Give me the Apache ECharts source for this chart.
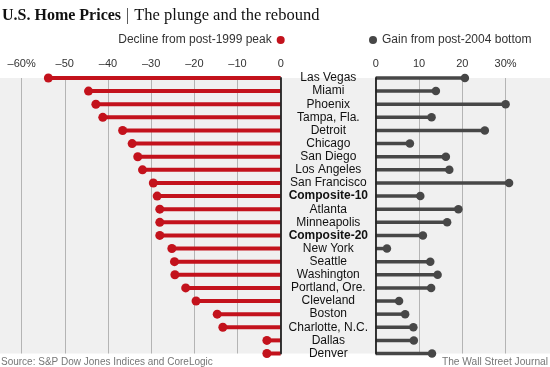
<!DOCTYPE html>
<html><head><meta charset="utf-8">
<script src="https://cdn.jsdelivr.net/npm/echarts@6/dist/echarts.min.js"></script>
<style>html,body{margin:0;padding:0;background:#fff}#c{width:550px;height:367px}</style>
</head><body><div id="c"></div>
<script>
const cities = ['Las Vegas','Miami','Phoenix','Tampa, Fla.','Detroit','Chicago','San Diego','Los Angeles','San Francisco','Composite-10','Atlanta','Minneapolis','Composite-20','New York','Seattle','Washington','Portland, Ore.','Cleveland','Boston','Charlotte, N.C.','Dallas','Denver'];
const decline = [-53.8,-44.5,-42.8,-41.2,-36.6,-34.4,-33.1,-32.0,-29.5,-28.6,-28.0,-28.0,-28.0,-25.2,-24.6,-24.5,-22.0,-19.6,-14.7,-13.4,-3.2,-3.2];
const gain = [20.6,13.9,30.0,12.9,25.2,7.9,16.2,17.0,30.8,10.3,19.1,16.5,10.9,2.6,12.6,14.3,12.8,5.4,6.8,8.7,8.8,13.0];
const leftTicks = [-60,-50,-40,-30,-20,-10,0];
const rightTicks = [0,10,20,30];
const boldRows = ['Composite-10','Composite-20'];

const RED = '#c3121c', DARK = '#474747', BG = '#f0f0f0', GRIDC = '#b4b4b4';
const SANS = 'Liberation Sans, Arial, sans-serif';
const chart = echarts.init(document.getElementById('c'), null, {renderer:'canvas'});
const TOP = 78, H = 275.5;
chart.setOption({
  animation: false,
  title: [
    {text: '{b|U.S. Home Prices} {s||} {n|The plunge and the rebound}', left: 2, top: 7, padding: 0,
     textStyle: {fontWeight: 'normal', rich: {
       b: {fontFamily: 'Liberation Serif', fontWeight: 'bold', fontSize: 16, color: '#111'},
       s: {fontFamily: 'Liberation Serif', fontWeight: 'normal', fontSize: 16, color: '#333'},
       n: {fontFamily: 'Liberation Serif', fontWeight: 'normal', fontSize: 16.5, color: '#111'}
     }}},
    {text: 'Source: S&P Dow Jones Indices and CoreLogic', left: 1, top: 357, padding: 0,
     textStyle: {fontFamily: SANS, fontSize: 10, fontWeight: 'normal', color: '#777'}},
    {text: 'The Wall Street Journal', right: 2, top: 357, padding: 0,
     textStyle: {fontFamily: SANS, fontSize: 10.2, fontWeight: 'normal', color: '#777'}}
  ],
  legend: [
    {data: ['Decline from post-1999 peak'], right: 265.3, top: 34, align: 'right', padding: 0,
     icon: 'circle', itemWidth: 8, itemHeight: 8, textStyle: {fontFamily: SANS, fontSize: 12, color: '#333'}},
    {data: ['Gain from post-2004 bottom'], left: 369, top: 34, padding: 0,
     icon: 'circle', itemWidth: 8, itemHeight: 8, textStyle: {fontFamily: SANS, fontSize: 12, color: '#333'}}
  ],
  grid: [
    {left: 0, width: 280.7, top: TOP, height: H, show: false},
    {left: 375.7, width: 173.2, top: TOP, height: H, show: false},
    {left: 0, right: 0, top: TOP, height: H, show: true, backgroundColor: BG, borderWidth: 0}
  ],
  xAxis: [
    {type: 'value', gridIndex: 0, position: 'top', min: -65, max: 0,
     axisLine: {show: false}, axisTick: {show: false, customValues: leftTicks},
     splitLine: {show: true, lineStyle: {color: GRIDC, width: 1}},
     axisLabel: {customValues: leftTicks, margin: 9, fontFamily: SANS, fontSize: 11, color: '#333',
       formatter: v => v === -60 ? '\u201360%' : (v === 0 ? '0' : '\u2013' + Math.abs(v))}},
    {type: 'value', gridIndex: 1, position: 'top', min: 0, max: 40,
     axisLine: {show: false}, axisTick: {show: false, customValues: rightTicks},
     splitLine: {show: true, lineStyle: {color: GRIDC, width: 1}},
     axisLabel: {customValues: rightTicks, margin: 9, fontFamily: SANS, fontSize: 11, color: '#333',
       formatter: v => v === 30 ? '30%' : String(v)}},
    {type: 'value', gridIndex: 2, show: false, min: 0, max: 1}
  ],
  yAxis: [
    {type: 'category', gridIndex: 0, data: cities, inverse: true, position: 'right', boundaryGap: false,
     axisLine: {show: true, lineStyle: {color: '#222', width: 1.8}}, axisTick: {show: false},
     axisLabel: {show: false}, splitLine: {show: false}, z: 5},
    {type: 'category', gridIndex: 1, data: cities, inverse: true, position: 'left', boundaryGap: false,
     axisLine: {show: true, lineStyle: {color: '#222', width: 1.8}}, axisTick: {show: false},
     axisLabel: {show: true, interval: 0, align: 'center', margin: 47.4, fontFamily: SANS, fontSize: 12, color: '#111',
       formatter: v => boldRows.includes(v) ? '{bd|' + v + '}' : v,
       rich: {bd: {fontWeight: 'bold', fontFamily: SANS, fontSize: 12, color: '#111'}}},
     splitLine: {show: false}, z: 5},
    {type: 'category', gridIndex: 2, show: false, data: ['a']}
  ],
  series: [
    {type: 'bar', xAxisIndex: 0, yAxisIndex: 0, data: decline, barWidth: 4, clip: false, silent: true,
     itemStyle: {color: RED}, z: 3},
    {type: 'scatter', name: 'Decline from post-1999 peak', xAxisIndex: 0, yAxisIndex: 0,
     data: decline.map((v, i) => [v, cities[i]]), symbolSize: 9, clip: false, silent: true,
     itemStyle: {color: RED, opacity: 1}, z: 4},
    {type: 'bar', xAxisIndex: 1, yAxisIndex: 1, data: gain, barWidth: 3.5, clip: false, silent: true,
     itemStyle: {color: DARK}, z: 3},
    {type: 'scatter', name: 'Gain from post-2004 bottom', xAxisIndex: 1, yAxisIndex: 1,
     data: gain.map((v, i) => [v, cities[i]]), symbolSize: 8.5, clip: false, silent: true,
     itemStyle: {color: DARK, opacity: 1}, z: 4}
  ]
});
</script></body></html>
